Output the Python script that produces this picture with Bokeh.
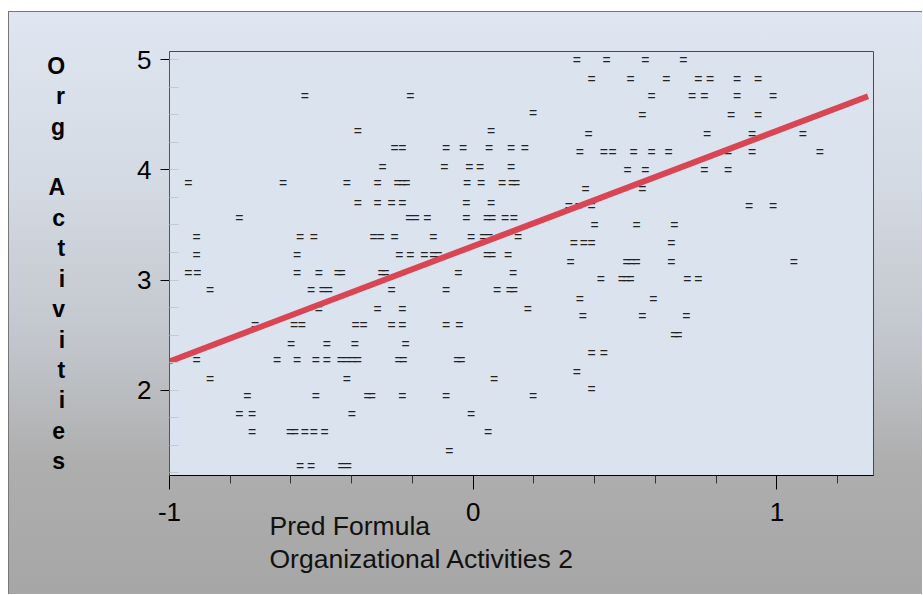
from bokeh.plotting import figure
from bokeh.models import Range1d, FixedTicker, ColumnDataSource, Title
from bokeh.core.properties import value
from bokeh.embed import file_html
from bokeh.resources import INLINE

# Predicted formula score per respondent
pred_formula = [
    0.341, 0.439, 0.567, 0.692,
    0.390, 0.518, 0.636, 0.741, 0.780, 0.869, 0.938,
    -0.554, -0.207, 0.587, 0.721, 0.761, 0.869, 0.987,
    0.197,
    0.557, 0.849, 0.938,
    -0.380, 0.059,
    0.380, 0.770, 0.918, 1.085,
    -0.259, -0.233, -0.089, -0.033, 0.052, 0.125, 0.170,
    0.351, 0.430, 0.459, 0.528, 0.587, 0.643, 0.839, 0.918, 1.141,
    -0.298, -0.095, -0.013, 0.023, 0.125,
    0.508, 0.567, 0.761, 0.839,
    -0.938, -0.626, -0.416, -0.315, -0.249, -0.233, -0.220, -0.020, 0.026, 0.095, 0.128, 0.141,
    0.370, 0.557,
    -0.380, -0.315, -0.269, -0.233, -0.023, 0.059,
    0.315, 0.348, 0.390, 0.908, 0.987,
    -0.770, -0.210, -0.190, -0.151, -0.023, 0.046, 0.062, 0.105, 0.134,
    0.400, 0.538, 0.662,
    -0.911, -0.570, -0.525, -0.328, -0.305, -0.259, -0.131, -0.007, 0.033, 0.052, 0.148,
    0.331, 0.364, 0.390, 0.652,
    -0.911, -0.580, -0.243, -0.207, -0.161, -0.131, -0.115, 0.046, 0.062, 0.115,
    0.321, 0.505, 0.521, 0.538, 0.652, 1.056,
    -0.938, -0.908, -0.580, -0.508, -0.446, -0.433, -0.302, -0.289, -0.049, 0.131,
    0.420, 0.489, 0.505, 0.518, 0.705, 0.741,
    -0.866, -0.534, -0.495, -0.475, -0.269, -0.089, 0.079, 0.121, 0.134,
    0.351, 0.593,
    -0.508, -0.315, -0.233, 0.180,
    0.361, 0.557, 0.702,
    -0.718, -0.590, -0.564, -0.387, -0.361, -0.269, -0.233, -0.089, -0.046,
    0.662, 0.675,
    -0.600, -0.482, -0.390, -0.223,
    0.390, 0.430,
    -0.911, -0.646, -0.580, -0.518, -0.482, -0.436, -0.416, -0.397, -0.380, -0.246, -0.230, -0.052, -0.039,
    0.341,
    -0.866, -0.416, 0.069,
    0.390,
    -0.744, -0.518, -0.348, -0.334, -0.233, -0.089, 0.197,
    -0.770, -0.728, -0.400, -0.007,
    -0.728, -0.603, -0.587, -0.554, -0.525, -0.489, 0.049,
    -0.079,
    -0.570, -0.534, -0.433, -0.413,
]

# Observed Org Activities score per respondent
org_activities = [
    5.00, 5.00, 5.00, 5.00,
    4.83, 4.83, 4.83, 4.83, 4.83, 4.83, 4.83,
    4.67, 4.67, 4.67, 4.67, 4.67, 4.67, 4.67,
    4.52,
    4.50, 4.50, 4.50,
    4.35, 4.35,
    4.33, 4.33, 4.33, 4.33,
    4.20, 4.20, 4.20, 4.20, 4.20, 4.20, 4.20,
    4.16, 4.16, 4.16, 4.16, 4.16, 4.16, 4.16, 4.16, 4.16,
    4.03, 4.03, 4.03, 4.03, 4.03,
    4.00, 4.00, 4.00, 4.00,
    3.88, 3.88, 3.88, 3.88, 3.88, 3.88, 3.88, 3.88, 3.88, 3.88, 3.88, 3.88,
    3.83, 3.83,
    3.70, 3.70, 3.70, 3.70, 3.70, 3.70,
    3.67, 3.67, 3.67, 3.67, 3.67,
    3.56, 3.56, 3.56, 3.56, 3.56, 3.56, 3.56, 3.56, 3.56,
    3.50, 3.50, 3.50,
    3.39, 3.39, 3.39, 3.39, 3.39, 3.39, 3.39, 3.39, 3.39, 3.39, 3.39,
    3.34, 3.34, 3.34, 3.34,
    3.23, 3.23, 3.23, 3.23, 3.23, 3.23, 3.23, 3.23, 3.23, 3.23,
    3.16, 3.16, 3.16, 3.16, 3.16, 3.16,
    3.06, 3.06, 3.06, 3.06, 3.06, 3.06, 3.06, 3.06, 3.06, 3.06,
    3.01, 3.01, 3.01, 3.01, 3.01, 3.01,
    2.91, 2.91, 2.91, 2.91, 2.91, 2.91, 2.91, 2.91, 2.91,
    2.83, 2.83,
    2.74, 2.74, 2.74, 2.74,
    2.67, 2.67, 2.67,
    2.59, 2.59, 2.59, 2.59, 2.59, 2.59, 2.59, 2.59, 2.59,
    2.50, 2.50,
    2.42, 2.42, 2.42, 2.42,
    2.34, 2.34,
    2.27, 2.27, 2.27, 2.27, 2.27, 2.27, 2.27, 2.27, 2.27, 2.27, 2.27, 2.27, 2.27,
    2.16,
    2.10, 2.10, 2.10,
    2.01,
    1.95, 1.95, 1.95, 1.95, 1.95, 1.95, 1.95,
    1.78, 1.78, 1.78, 1.78,
    1.62, 1.62, 1.62, 1.62, 1.62, 1.62, 1.62,
    1.45,
    1.31, 1.31, 1.31, 1.31,
]

# Endpoints of the fitted regression line
fit_x = [-1.00, 1.30]
fit_y = [2.26, 4.67]

x_major_ticks = [-1, 0, 1]
x_minor_ticks = [-0.8, -0.6, -0.4, -0.2, 0.2, 0.4, 0.6, 0.8, 1.2]
y_major_ticks = [2, 3, 4, 5]
y_minor_ticks = [1.25, 1.5, 1.75, 2.0, 2.25, 2.5, 2.75, 3.0, 3.25, 3.5, 3.75,
                 4.0, 4.25, 4.5, 4.75, 5.0]

x_title_lines = ["Pred Formula", "Organizational Activities 2"]
y_title = "O\nr\ng\n\nA\nc\nt\ni\nv\ni\nt\ni\ne\ns"

FONT = "Liberation Sans"

p = figure(
    width=914, height=583,
    x_range=Range1d(-1.0, 1.318), y_range=Range1d(1.223, 5.077),
    output_backend="svg", toolbar_location=None,
    min_border_left=160, min_border_right=50,
    min_border_top=39, min_border_bottom=120,
)
p.styles = {
    "margin-left": "8px",
    "margin-top": "11px",
    "border-left": "1px solid #777777",
    "border-top": "1px solid #777777",
    "background": "linear-gradient(180deg, #dfe6f1 0px, #d4dae3 170px, "
                  "#c2c6cc 330px, #aeaeae 450px, #a6a6a6 583px)",
}
p.border_fill_color = None
p.background_fill_color = "#dae3ee"
p.outline_line_color = "#4a4a4a"
p.outline_line_width = 1
p.xgrid.visible = False
p.ygrid.visible = False

xa = p.xaxis[0]
xa.ticker = FixedTicker(ticks=x_major_ticks, minor_ticks=x_minor_ticks)
xa.major_label_overrides = {-1: "-1", 0: "0", 1: "1"}
xa.major_tick_out = 14
xa.major_tick_in = 0
xa.minor_tick_out = 8
xa.minor_tick_in = 0
xa.axis_line_color = "black"
xa.major_tick_line_color = "black"
xa.minor_tick_line_color = "#333333"
xa.major_label_standoff = 13
xa.major_label_text_font = FONT
xa.major_label_text_font_size = "26px"
xa.major_label_text_color = "black"

ya = p.yaxis[0]
ya.ticker = FixedTicker(ticks=y_major_ticks, minor_ticks=y_minor_ticks)
ya.major_tick_out = 9
ya.major_tick_in = 0
ya.minor_tick_in = 9
ya.minor_tick_out = 0
ya.axis_line_color = "#555555"
ya.major_tick_line_color = "black"
ya.minor_tick_line_color = "#c3cad4"
ya.major_label_standoff = 9
ya.major_label_text_font = FONT
ya.major_label_text_font_size = "26px"
ya.major_label_text_color = "black"
ya.axis_label = y_title
ya.axis_label_orientation = "horizontal"
ya.axis_label_standoff = 69
ya.axis_label_text_font = FONT
ya.axis_label_text_font_style = "bold"
ya.axis_label_text_font_size = "23px"
ya.axis_label_text_color = "black"
ya.axis_label_text_line_height = 1.17

src = ColumnDataSource(data=dict(x=pred_formula, y=org_activities))
p.text(x="x", y="y", text=value("="), source=src,
       text_font=value(FONT), text_font_size="14px", text_color="#222222",
       text_align="center", text_baseline="middle")

p.line(fit_x, fit_y, line_width=6, line_color="#d94553", line_cap="butt")

# Two-line x-axis caption, stacked below the axis and left-aligned with an offset;
# the first line is pulled up so it sits level with the tick labels' lower edge
for line, gap in zip(x_title_lines, [-29, 30]):
    p.add_layout(Title(
        text=line, align="left", offset=100, standoff=gap,
        text_font=FONT, text_font_size="26.5px", text_font_style="normal",
        text_color="#111111",
    ), "below")

open("out.html", "w").write(file_html(p, INLINE))
